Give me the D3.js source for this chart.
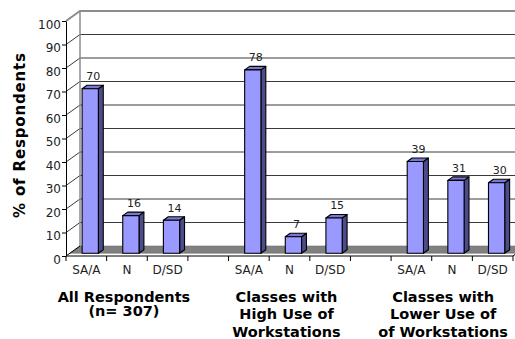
<!DOCTYPE html>
<html>
<head>
<meta charset="utf-8">
<script src="https://cdn.jsdelivr.net/npm/d3@7"></script>
<style>
  html, body { margin: 0; padding: 0; background: #fff; }
  svg { display: block; }
  text { font-family: "DejaVu Sans", Verdana, sans-serif; }
</style>
</head>
<body>
<svg id="chart" width="515" height="339"></svg>
<script>
// Survey responses per class group (percent of respondents)
const responses = ["SA/A", "N", "D/SD"];
const groupNames = [
  ["All Respondents", "(n= 307)"],
  ["Classes with", "High Use of", "Workstations"],
  ["Classes with", "Lower Use of", "of Workstations"]
];
const allRespondents = [70, 16, 14];
const highUse = [78, 7, 15];
const lowerUse = [39, 31, 30];
const yTicks = [0, 10, 20, 30, 40, 50, 60, 70, 80, 90, 100];
const yTitle = "% of Respondents";

const seriesByGroup = [allRespondents, highUse, lowerUse];

// Category slots: three responses per group, an empty slot between groups
const slots = [];
seriesByGroup.forEach((vals, g) => {
  responses.forEach((r, i) => slots.push({ key: `g${g}-${i}`, label: r, value: vals[i], group: g }));
  if (g < seriesByGroup.length - 1) slots.push({ key: `gap${g}`, label: "", value: null, group: g });
});
const bars = slots.filter(s => s.value !== null);

const svg = d3.select("#chart");

// Front plane geometry and the oblique depth offset of the 3-D box
const plotL = 66, plotR = 513, plotBase = 256, plotTop = 21;
const depthDX = 14, depthDY = -10;
const zFront = 0.28, zBack = 0.63;   // bar depth within the box

const x = d3.scaleBand().domain(slots.map(s => s.key)).range([plotL, plotR]).paddingInner(0).paddingOuter(0);
const y = d3.scaleLinear().domain([0, 100]).range([plotBase, plotTop]);
const step = x.step();
const barW = step / 2.5;   // gap width 150%

const P = (px, py, z) => [px + depthDX * z, py + depthDY * z];
const pts = arr => arr.map(p => p.join(",")).join(" ");

const gridColor = "#3a3a3a";
const wallEdge = "#8c8c8c";

// Back wall
const backL = plotL + depthDX, backR = plotR + depthDX;
svg.append("rect").attr("x", backL).attr("y", y(100) + depthDY)
  .attr("width", backR - backL).attr("height", y(0) - y(100)).attr("fill", "#fff");

// Gridlines on back wall and side wall
const grid = svg.append("g");
yTicks.filter(v => v > 0 && v < 100).forEach(v => {
  const [bx, by] = P(plotL, y(v), 1);
  grid.append("line").attr("x1", bx).attr("y1", by).attr("x2", backR).attr("y2", by)
    .attr("stroke", gridColor).attr("stroke-width", 1);
  grid.append("line").attr("x1", plotL).attr("y1", y(v)).attr("x2", bx).attr("y2", by)
    .attr("stroke", gridColor).attr("stroke-width", 1);
});

// Wall frame
const [tlx, tly] = P(plotL, y(100), 1);
const [blx, bly] = P(plotL, y(0), 1);
svg.append("polyline")
  .attr("points", pts([[plotL, y(100)], [tlx, tly], [backR, tly]]))
  .attr("fill", "none").attr("stroke", wallEdge).attr("stroke-width", 2);
svg.append("line").attr("x1", tlx).attr("y1", tly).attr("x2", blx).attr("y2", bly)
  .attr("stroke", wallEdge).attr("stroke-width", 1.5);

// Floor
svg.append("polygon")
  .attr("points", pts([P(plotL, y(0), zFront), P(plotL, y(0), 1), P(plotR, y(0), 1), P(plotR, y(0), zFront)]))
  .attr("fill", "#808080").attr("stroke", "#6e6e6e").attr("stroke-width", 0.6);
svg.append("line").attr("x1", plotL).attr("y1", y(0)).attr("x2", blx).attr("y2", bly)
  .attr("stroke", "#000").attr("stroke-width", 1);

// 3-D columns
const barG = svg.append("g");
bars.forEach(d => {
  const x0 = x(d.key) + (step - barW) / 2, x1 = x0 + barW;
  const yt = y(d.value), yb = y(0);
  const g = barG.append("g").attr("stroke", "#000").attr("stroke-width", 1.1).attr("stroke-linejoin", "round");
  g.append("polygon").attr("fill", "#4c4c8c")
    .attr("points", pts([P(x1, yt, zFront), P(x1, yt, zBack), P(x1, yb, zBack), P(x1, yb, zFront)]));
  g.append("polygon").attr("fill", "#7777d4")
    .attr("points", pts([P(x0, yt, zFront), P(x0, yt, zBack), P(x1, yt, zBack), P(x1, yt, zFront)]));
  g.append("polygon").attr("fill", "#9999ff")
    .attr("points", pts([P(x0, yt, zFront), P(x1, yt, zFront), P(x1, yb, zFront), P(x0, yb, zFront)]));
});

// Value labels
svg.append("g").selectAll("text").data(bars).join("text")
  .attr("x", d => x(d.key) + step / 2 + depthDX * 0.5)
  .attr("y", d => y(d.value) + depthDY * zBack - 5)
  .attr("text-anchor", "middle")
  .attr("font-size", 11).attr("fill", "#222")
  .text(d => d.value);

// Value axis
const yAxis = svg.append("g").attr("transform", `translate(${plotL},0)`)
  .call(d3.axisLeft(y).tickValues(yTicks).tickSize(4).tickPadding(1).tickSizeOuter(0));
yAxis.select(".domain").attr("stroke", "#000");
yAxis.selectAll(".tick line").attr("stroke", "#000");
yAxis.selectAll(".tick text").attr("font-size", 12).attr("fill", "#222")
  .attr("font-family", "DejaVu Sans, Verdana, sans-serif").attr("dy", "0.62em");

// Category axis: line, boundary ticks, response labels
const xAxis = svg.append("g");
xAxis.append("line").attr("x1", plotL).attr("y1", plotBase).attr("x2", plotR).attr("y2", plotBase)
  .attr("stroke", "#000");
xAxis.append("line").attr("x1", plotR).attr("y1", plotBase)
  .attr("x2", P(plotR, plotBase, zFront)[0]).attr("y2", P(plotR, plotBase, zFront)[1])
  .attr("stroke", "#000");
d3.range(slots.length + 1).forEach(i => {
  const tx = plotL + i * step;
  xAxis.append("line").attr("x1", tx).attr("y1", plotBase).attr("x2", tx).attr("y2", plotBase + 5).attr("stroke", "#000");
});
xAxis.selectAll("text.cat").data(slots).join("text").attr("class", "cat")
  .attr("x", d => x(d.key) + step / 2).attr("y", 274)
  .attr("text-anchor", "middle").attr("font-size", 12).attr("fill", "#222")
  .text(d => d.label);

// Group captions under each trio of columns
const lineGap = [14, 17.5, 17.5];
groupNames.forEach((lines, g) => {
  const mid = slots.find(s => s.key === `g${g}-1`);
  const t = svg.append("text").attr("text-anchor", "middle")
    .attr("font-size", 14.5).attr("font-weight", "bold").attr("fill", "#000");
  lines.forEach((ln, i) => {
    t.append("tspan").attr("x", 0).attr("y", 301.7 + i * lineGap[g]).text(ln);
  });
  const w = d3.max(t.selectAll("tspan").nodes(), n => n.getComputedTextLength());
  let cx = x(mid.key) + step / 2 - 3;
  cx = Math.min(cx, 508 - w / 2);
  t.selectAll("tspan").attr("x", cx);
});

// Value axis title
svg.append("text")
  .attr("transform", "translate(25,135.5) rotate(-90)")
  .attr("text-anchor", "middle")
  .attr("font-size", 15).attr("font-weight", "bold").attr("fill", "#000")
  .attr("textLength", 165).attr("lengthAdjust", "spacing")
  .text(yTitle);
</script>
</body>
</html>
